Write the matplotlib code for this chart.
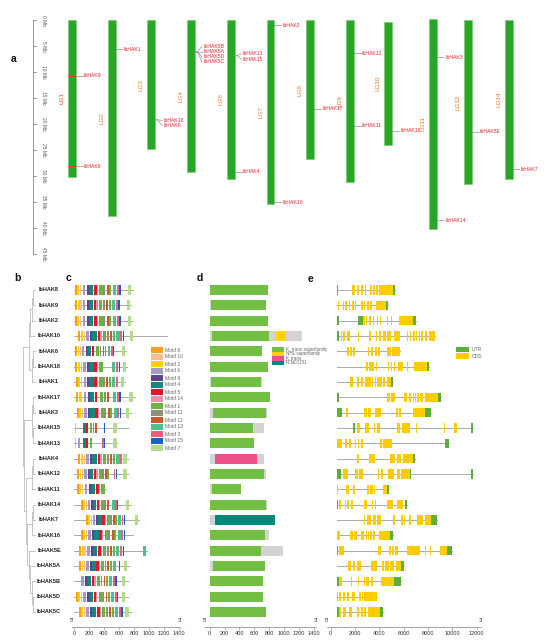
import matplotlib
matplotlib.use('Agg')
import matplotlib.pyplot as plt
from matplotlib.patches import Rectangle

plt.rcParams['font.family'] = ['Liberation Sans', 'DejaVu Sans']

# ---------------- data: panel a (chromosome map) ----------------
chroms = ['LG1', 'LG2', 'LG3', 'LG4', 'LG5', 'LG7', 'LG8', 'LG9', 'LG10', 'LG11', 'LG12', 'LG14']
chrom_start = [0, 0, 0, 0, 0, 0, 0, 0, 0.4, -0.2, 0, 0]
chrom_end = [30.1, 37.6, 24.9, 29.2, 30.6, 35.4, 26.8, 31.2, 24.0, 40.2, 31.5, 30.5]

map_genes = ['IbHAK9', 'IbHAK8', 'IbHAK1', 'IbHAK18', 'IbHAK6', 'IbHAK5B', 'IbHAK5A', 'IbHAK5D',
             'IbHAK5C', 'IbHAK13', 'IbHAK15', 'IbHAK4', 'IbHAK2', 'IbHAK10', 'IbHAK17', 'IbHAK12',
             'IbHAK11', 'IbHAK16', 'IbHAK3', 'IbHAK14', 'IbHAK5E', 'IbHAK7']
map_chrom = ['LG1', 'LG1', 'LG2', 'LG3', 'LG3', 'LG4', 'LG4', 'LG4', 'LG4', 'LG5', 'LG5', 'LG5',
             'LG7', 'LG7', 'LG8', 'LG9', 'LG9', 'LG10', 'LG11', 'LG11', 'LG12', 'LG14']
map_pos = [10.7, 28.1, 5.6, 19.2, 19.2, 6.1, 6.1, 6.1, 6.1, 6.8, 6.8, 29.2,
           1.0, 35.0, 17.1, 6.35, 20.3, 21.3, 7.2, 38.5, 21.5, 28.7]
map_label_pos = [10.7, 28.1, 5.6, 19.3, 20.3, 5.1, 6.1, 7.1, 8.0, 6.5, 7.6, 29.2,
                 1.0, 35.0, 17.1, 6.35, 20.3, 21.3, 7.2, 38.5, 21.5, 28.7]
scale_ticks = [0, 5, 10, 15, 20, 25, 30, 35, 40, 45]

# ---------------- data: rows of panels b-e ----------------
genes = ['IbHAK8', 'IbHAK9', 'IbHAK2', 'IbHAK10', 'IbHAK6', 'IbHAK18', 'IbHAK1', 'IbHAK17',
         'IbHAK3', 'IbHAK15', 'IbHAK13', 'IbHAK4', 'IbHAK12', 'IbHAK11', 'IbHAK14', 'IbHAK7',
         'IbHAK16', 'IbHAK5E', 'IbHAK5A', 'IbHAK5B', 'IbHAK5D', 'IbHAK5C']

tree = (((((('IbHAK8', 'IbHAK9'), 'IbHAK2'), 'IbHAK10'), (('IbHAK6', 'IbHAK18'), 'IbHAK1')),
         ((('IbHAK17', 'IbHAK3'), ('IbHAK15', 'IbHAK13')),
          ((('IbHAK4', 'IbHAK12'), 'IbHAK11'),
           ((('IbHAK14', 'IbHAK7'), 'IbHAK16'),
            ('IbHAK5E', ('IbHAK5A', ('IbHAK5B', ('IbHAK5D', 'IbHAK5C')))))))))

# panel c: motif composition (aa)
motif_order = [8, 10, 2, 6, 9, 4, 5, 14, 1, 11, 12, 13, 3, 15, 7]
motif_colors = {8: '#F7A11A', 10: '#F9BE8F', 2: '#FFD100', 6: '#A49BC9', 9: '#5C4491',
                4: '#13877A', 5: '#E8132B', 14: '#F08DAA', 1: '#6DB33F', 11: '#8A9178',
                12: '#C9582E', 13: '#4FC08D', 3: '#EC5D80', 15: '#1A63C6', 7: '#B5DC8A'}
motif_template = [(8, 9, 36), (2, 44, 71), (10, 80, 98), (6, 116, 151), (9, 169, 196),
                  (4, 196, 258), (5, 267, 302), (14, 302, 320), (1, 338, 382), (11, 391, 418),
                  (12, 436, 462), (1, 471, 498), (13, 516, 560), (3, 569, 596), (15, 604, 622)]
c_len = [791, 760, 790, 1235, 693, 702, 680, 813, 755, 724, 578, 724, 724, 427, 755, 871,
         791, 969, 738, 724, 715, 755]
c_shift = [0, 5, 0, 50, 10, 10, 18, 18, 27, -22, -22, 50, 36, 25, 91, 152, 80, 62, 63, -10, 19, 53]
c_scale = [1.0, 0.97, 1.0, 1.0, 0.85, 0.97, 0.95, 0.97, 0.97, 0.7, 0.7, 1.0, 0.867, 1.0,
           0.807, 0.852, 0.97, 0.97, 0.88, 0.93, 0.92, 0.956]
c_missing = [[], [], [], [], [7], [9, 10, 11], [14], [7, 11], [], [0, 2, 3, 4, 7, 11, 12, 13],
             [0, 2, 4, 7, 9, 10, 11, 12], [14], [12], [9, 10, 11, 12, 13, 14], [11], [], [], [],
             [13], [0, 1, 2], [], []]
c_m7 = [720, 702, 715, 746, 640, 650, 625, 738, 690, 524, 524, 660, 658, None, 693, 809,
        None, None, 666, 640, 640, 684]
m7_len = 44
c_extra = {'IbHAK5E': [(13, 915, 965)]}

# panel d: conserved domains (aa)
d_len = [790, 763, 790, 1247, 700, 781, 700, 808, 767, 731, 592, 731, 754, 422, 767, 880,
         799, 983, 749, 713, 713, 763]
domain_names = ['K_trans superfamily', 'NHL superfamily', 'K_trans', 'PLN00151']
domain_colors = ['#72BF44', '#FFD200', '#F0508A', '#00897B']
d_domains = [
    [('K_trans superfamily', 0, 790)],
    [('K_trans superfamily', 18, 763)],
    [('K_trans superfamily', 0, 790)],
    [('K_trans superfamily', 27, 799), ('NHL superfamily', 888, 1023)],
    [('K_trans superfamily', 0, 700)],
    [('K_trans superfamily', 0, 781)],
    [('K_trans superfamily', 18, 686)],
    [('K_trans superfamily', 0, 808)],
    [('K_trans superfamily', 45, 758)],
    [('K_trans superfamily', 0, 579)],
    [('K_trans superfamily', 0, 592)],
    [('K_trans', 72, 642)],
    [('K_trans superfamily', 0, 736)],
    [('K_trans superfamily', 36, 422)],
    [('K_trans superfamily', 0, 754)],
    [('PLN00151', 72, 880)],
    [('K_trans superfamily', 0, 745)],
    [('K_trans superfamily', 0, 691)],
    [('K_trans superfamily', 49, 749)],
    [('K_trans superfamily', 9, 713)],
    [('K_trans superfamily', 9, 713)],
    [('K_trans superfamily', 0, 763)],
]

# panel e: gene structure (bp); U = UTR, C = CDS
e_struct = [
    [('U', 490, 580), ('C', 1730, 1810), ('C', 1860, 2030), ('C', 2190, 2360), ('C', 2520, 2690),
     ('C', 2800, 2900), ('C', 3230, 3400), ('C', 3510, 3620), ('C', 3730, 3920), ('C', 4000, 5100),
     ('U', 5100, 5320)],
    [('U', 490, 550), ('C', 630, 710), ('C', 990, 1100), ('C', 1210, 1370), ('C', 1480, 1590),
     ('C', 1750, 1890), ('C', 2030, 2080), ('C', 2520, 2630), ('C', 2740, 2850), ('C', 3010, 3120),
     ('C', 3230, 3370), ('C', 3730, 4520), ('U', 4520, 4740)],
    [('U', 490, 660), ('U', 2250, 2690), ('C', 2690, 2820), ('C', 2900, 3010), ('C', 3180, 3290),
     ('C', 3450, 3560), ('C', 3780, 3920), ('C', 4060, 4170), ('C', 4600, 4710), ('C', 4930, 5040),
     ('C', 5640, 6800), ('U', 6800, 6990)],
    [('U', 490, 710), ('C', 820, 930), ('C', 990, 1210), ('C', 1320, 1590), ('C', 2250, 2300),
     ('C', 3120, 3340), ('C', 3730, 3840), ('C', 3950, 4110), ('C', 4330, 4550), ('C', 4660, 4930),
     ('C', 5210, 5700), ('C', 6300, 6360), ('C', 6520, 6630), ('C', 6800, 6910), ('C', 7010, 7120),
     ('C', 7230, 7340), ('C', 7450, 7620), ('C', 7730, 7890), ('C', 8110, 8600)],
    [('U', 490, 550), ('C', 1370, 1480), ('C', 1590, 1750), ('C', 1860, 2030), ('C', 3070, 3180),
     ('C', 3340, 3510), ('C', 3620, 3780), ('C', 3890, 4060), ('C', 4600, 4930), ('C', 5040, 5700)],
    [('U', 490, 550), ('C', 2900, 3070), ('C', 3180, 3560), ('C', 3730, 3840), ('C', 4710, 4770),
     ('C', 4930, 5040), ('C', 5210, 5320), ('C', 5530, 5970), ('C', 6300, 6360), ('C', 6850, 7950),
     ('U', 7950, 8110)],
    [('U', 490, 550), ('C', 1590, 1810), ('C', 2140, 2300), ('C', 2470, 2690), ('C', 2800, 2960),
     ('C', 3010, 3120), ('C', 3180, 3290), ('C', 3400, 3510), ('C', 3620, 3730), ('C', 3780, 4220),
     ('C', 4270, 4490), ('C', 4600, 4930), ('U', 4930, 5100)],
    [('U', 490, 710), ('C', 4660, 4880), ('C', 4990, 5320), ('C', 6030, 6300), ('C', 6410, 6580),
     ('C', 6740, 6850), ('C', 6900, 7010), ('C', 7120, 7230), ('C', 7340, 7620), ('C', 7780, 8820),
     ('U', 8820, 9100)],
    [('U', 490, 930), ('C', 1260, 1420), ('C', 2740, 2960), ('C', 3070, 3290), ('C', 3620, 3780),
     ('C', 3840, 4110), ('C', 5370, 5530), ('C', 5640, 5810), ('C', 6740, 7730), ('U', 7730, 8220)],
    [('U', 490, 550), ('U', 1810, 2030), ('C', 2140, 2410), ('C', 2800, 2960), ('C', 3010, 3180),
     ('C', 3560, 3670), ('C', 3840, 4060), ('C', 5430, 5700), ('C', 5860, 6520), ('C', 7010, 7120),
     ('C', 9320, 9430), ('C', 10140, 10360), ('U', 11560, 11670)],
    [('C', 490, 660), ('C', 710, 930), ('C', 1210, 1370), ('C', 1480, 1640), ('C', 1810, 1860),
     ('C', 1970, 2080), ('C', 2250, 2360), ('C', 2520, 2630), ('C', 4060, 4220), ('C', 4330, 5040),
     ('U', 9430, 9750)],
    [('U', 490, 550), ('C', 2140, 2360), ('C', 3120, 3620), ('C', 4880, 4930), ('C', 4990, 5260),
     ('C', 5430, 5750), ('C', 5970, 6800), ('U', 6800, 6960)],
    [('U', 490, 820), ('C', 1040, 1430), ('C', 1970, 2250), ('C', 2360, 2630), ('C', 3890, 4000),
     ('C', 4110, 4270), ('C', 4710, 4930), ('C', 4990, 5210), ('C', 5430, 5700), ('C', 5810, 6520),
     ('U', 6520, 6600), ('U', 11560, 11730)],
    [('C', 490, 600), ('C', 1260, 1480), ('C', 1810, 2030), ('C', 3010, 3180), ('C', 3230, 3450),
     ('C', 3560, 3670), ('C', 4330, 4600), ('U', 4600, 4770)],
    [('U', 490, 600), ('C', 660, 880), ('C', 1150, 1260), ('C', 1370, 1530), ('C', 1640, 1810),
     ('C', 2740, 2960), ('C', 3400, 3510), ('C', 3620, 3730), ('C', 4600, 5100), ('C', 5430, 5970),
     ('C', 6080, 6140), ('U', 6140, 6300)],
    [('U', 490, 550), ('C', 2740, 2850), ('C', 2960, 3290), ('C', 3510, 3730), ('C', 3840, 4110),
     ('C', 4270, 4330), ('C', 5100, 5320), ('C', 5810, 5920), ('C', 6030, 6140), ('C', 6410, 6630),
     ('C', 7070, 7620), ('C', 7780, 8280), ('U', 8280, 8710)],
    [('C', 490, 770), ('C', 1590, 1810), ('C', 1920, 2140), ('C', 2520, 2740), ('C', 2900, 2960),
     ('C', 3070, 3180), ('C', 3230, 3400), ('C', 3510, 3620), ('C', 3950, 4880), ('U', 4880, 5150)],
    [('U', 490, 600), ('C', 660, 820), ('C', 880, 1100), ('C', 3890, 4160), ('C', 4770, 4930),
     ('C', 5040, 5210), ('C', 5320, 5530), ('C', 6300, 7340), ('C', 7730, 7840), ('C', 8160, 8270),
     ('C', 8990, 9540), ('U', 9540, 9970)],
    [('U', 490, 550), ('C', 1420, 1640), ('C', 1860, 2030), ('C', 2190, 2470), ('C', 3340, 3450),
     ('C', 3510, 3780), ('C', 4220, 4380), ('C', 4490, 4770), ('C', 4880, 5210), ('C', 5370, 5810),
     ('U', 5810, 6030)],
    [('U', 490, 710), ('C', 710, 930), ('C', 1640, 1750), ('C', 2250, 2360), ('C', 2740, 2850),
     ('C', 2900, 3120), ('C', 3290, 3510), ('C', 4160, 5210), ('U', 5210, 5810)],
    [('C', 490, 600), ('C', 710, 880), ('C', 1040, 1210), ('C', 1370, 1530), ('C', 1750, 2030),
     ('C', 2360, 2470), ('C', 2580, 2690), ('C', 2740, 3780)],
    [('U', 490, 710), ('C', 710, 880), ('C', 1040, 1260), ('C', 1530, 1750), ('C', 2140, 2360),
     ('C', 2520, 2690), ('C', 2740, 2900), ('C', 3070, 4060), ('U', 4060, 4330)],
]
struct_colors = {'U': '#5DAF3C', 'C': '#FFCC00'}

# ---------------- figure / layout helpers ----------------
W, H = 550, 640
fig = plt.figure(figsize=(W / 100, H / 100), dpi=100)


def px_axes(x0, y0, x1, y1, **kw):
    return fig.add_axes([x0 / W, 1 - y1 / H, (x1 - x0) / W, (y1 - y0) / H], **kw)


ROW0, DROW = 290.0, 15.33
RTOP, RBOT = ROW0 - DROW, ROW0 + 22 * DROW

# ---------------- panel a ----------------
ax_a = px_axes(0, 0, 550, 265)
ax_a.set_xlim(-72 / 39.7, (550 - 72) / 39.7)
ax_a.set_ylim((265 - 20) / 5.2, (0 - 20) / 5.2)
ax_a.axis('off')
chrom_x = [0, 1, 2, 3, 4, 5, 6, 7, 7.97, 9.1, 9.97, 11]   # layout positions of the chromosomes

cw = 0.1
for i, (c, s, e) in enumerate(zip(chroms, chrom_start, chrom_end)):
    x = chrom_x[i]
    ax_a.add_patch(Rectangle((x - cw, s), 2 * cw, e - s, facecolor='#27A727',
                             edgecolor='#7ACD6E', lw=0.5, zorder=2))
    ax_a.text(x - 0.25, (s + e) / 2, c, rotation=90, fontsize=4.5, ha='center', va='center',
              color='#E8452B' if c == 'LG1' else '#E8782A')

for g, c, p, lp in zip(map_genes, map_chrom, map_pos, map_label_pos):
    x = chrom_x[chroms.index(c)]
    edge = x + cw
    lx = x + 0.3
    if c == 'LG1':
        ax_a.plot([x - cw, edge], [p, p], color='#E53935', lw=0.6, zorder=3)
    ax_a.plot([edge, edge + 0.06, lx - 0.03], [p, p, lp], color='#9A9A9A', lw=0.55, zorder=3)
    ax_a.text(lx, lp, g, fontsize=3.7, color='#E8262B', ha='left', va='center')

sx = (33 - 72) / 39.7
ax_a.plot([sx, sx], [scale_ticks[0], scale_ticks[-1]], color='#888888', lw=0.6)
for t in scale_ticks:
    ax_a.plot([sx, sx + 0.08], [t, t], color='#888888', lw=0.6)
    ax_a.text((43.5 - 72) / 39.7, t, f'{t} Mb', rotation=270, fontsize=3.5, ha='center',
              va='center', color='#555555')

# ---------------- panel b: tree ----------------
ax_b = px_axes(0, RTOP, 70, RBOT)
ax_b.set_xlim(0, 70)
ax_b.set_ylim(22, -1)
ax_b.axis('off')
leaf_y = {g: i for i, g in enumerate(genes)}
TIP, STEP = 35.0, 1.5


def height(n):
    return 0 if isinstance(n, str) else 1 + max(height(ch) for ch in n)


def draw(n):
    if isinstance(n, str):
        return leaf_y[n], TIP
    x = TIP - height(n) * STEP
    pts = [draw(ch) for ch in n]
    for cy, cx in pts:
        ax_b.plot([x, cx], [cy, cy], color='#BDBDBD', lw=0.6)
    ys = [p[0] for p in pts]
    ax_b.plot([x, x], [min(ys), max(ys)], color='#BDBDBD', lw=0.6)
    return (min(ys) + max(ys)) / 2, x


draw(tree)
for g, i in leaf_y.items():
    ax_b.text(49, i, g, fontsize=4, fontweight='bold', ha='center', va='center', color='#222222')


def style_row_axis(ax, ticks, xl):
    ax.set_ylim(22, -1)
    ax.set_xlim(*xl)
    for sp in ['left', 'top', 'right']:
        ax.spines[sp].set_visible(False)
    ax.spines['bottom'].set_color('#999999')
    ax.spines['bottom'].set_linewidth(0.6)
    ax.set_yticks([])
    ax.set_xticks(ticks)
    ax.tick_params(axis='x', labelsize=4, length=2, width=0.5, pad=1, colors='#999999',
                   labelcolor='#333333')
    ax.patch.set_alpha(0)
    ax.text(xl[0], 21.75, "5'", fontsize=4, ha='center', va='bottom', color='#333333')
    ax.text(xl[1], 21.75, "3'", fontsize=4, ha='center', va='bottom', color='#333333')


BH = 0.33
# ---------------- panel c: motifs ----------------
ax_c = px_axes(71.75, RTOP, 180.1, RBOT)
style_row_axis(ax_c, list(range(0, 1401, 200)), (-30, 1415))
for i, g in enumerate(genes):
    ax_c.plot([0, c_len[i]], [i, i], color='#AAAAAA', lw=0.7, zorder=1)
    sh, sc = c_shift[i], c_scale[i]
    for k, (m, s, e) in enumerate(motif_template):
        if k in c_missing[i]:
            continue
        ax_c.add_patch(Rectangle((sh + sc * s, i - BH), sc * (e - s), 2 * BH,
                                 facecolor=motif_colors[m], lw=0, zorder=2))
    if c_m7[i] is not None:
        ax_c.add_patch(Rectangle((c_m7[i], i - BH), m7_len, 2 * BH,
                                 facecolor=motif_colors[7], lw=0, zorder=2))
    for m, s, e in c_extra.get(g, []):
        ax_c.add_patch(Rectangle((s, i - BH), e - s, 2 * BH,
                                 facecolor=motif_colors[m], lw=0, zorder=2))

# ---------------- panel d: domains ----------------
ax_d = px_axes(205, RTOP, 315.7, RBOT)
style_row_axis(ax_d, list(range(0, 1401, 200)), (-63, 1425))
for i, g in enumerate(genes):
    ax_d.add_patch(Rectangle((0, i - BH), d_len[i], 2 * BH, facecolor='#D3D3D3', lw=0, zorder=1))
    for name, s, e in d_domains[i]:
        ax_d.add_patch(Rectangle((s, i - BH), e - s, 2 * BH,
                                 facecolor=domain_colors[domain_names.index(name)], lw=0, zorder=2))

# ---------------- panel e: gene structure ----------------
ax_e = px_axes(326.7, RTOP, 481.3, RBOT)
style_row_axis(ax_e, list(range(0, 12001, 2000)), (-330, 12380))
for i, g in enumerate(genes):
    st = e_struct[i]
    ax_e.plot([st[0][1], st[-1][2]], [i, i], color='#AAAAAA', lw=0.7, zorder=1)
    for t, s, e in st:
        ax_e.add_patch(Rectangle((s, i - 0.3), e - s, 0.6, facecolor=struct_colors[t], lw=0,
                                 zorder=2))

# ---------------- legends & panel letters (pixel overlay) ----------------
ov = fig.add_axes([0, 0, 1, 1])
ov.set_xlim(0, W)
ov.set_ylim(H, 0)
ov.axis('off')

for k, m in enumerate(motif_order):
    y = 350 + k * 7.0
    ov.add_patch(Rectangle((150.7, y - 2.8), 12, 5.6, facecolor=motif_colors[m], lw=0))
    ov.text(165, y, f'Motif {m}', fontsize=3.6, va='center', ha='left', color='#666666')

for k, (n, col) in enumerate(zip(domain_names, domain_colors)):
    y = 349.3 + k * 4.5
    ov.add_patch(Rectangle((272, y - 2.2), 12, 4.4, facecolor=col, lw=0))
    ov.text(286, y, n, fontsize=3.3, va='center', ha='left', color='#666666')

for k, (n, t) in enumerate([('UTR', 'U'), ('CDS', 'C')]):
    y = 349.5 + k * 6.5
    ov.add_patch(Rectangle((456, y - 2.6), 13, 5.2, facecolor=struct_colors[t], lw=0))
    ov.text(472, y, n, fontsize=3.6, va='center', ha='left', color='#666666')

for letter, x, y in [('a', 14, 59), ('b', 17, 278), ('c', 68, 278), ('d', 200, 278), ('e', 311, 279)]:
    ov.text(x, y, letter, fontsize=7.5, fontweight='bold', ha='center', va='center', color='#111111')

fig.savefig('out.png', dpi=100)
